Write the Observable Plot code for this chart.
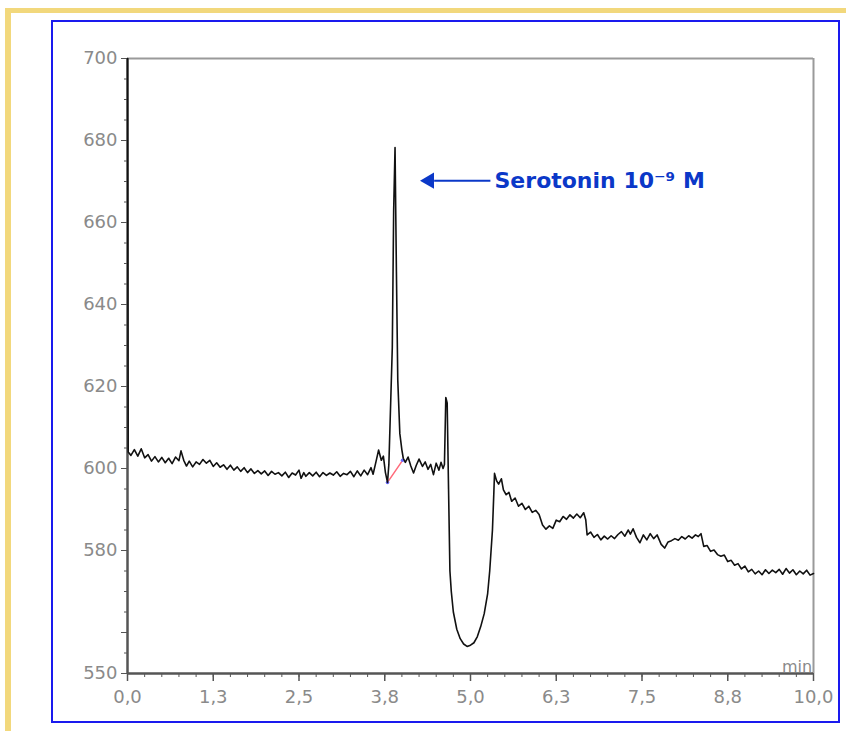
<!DOCTYPE html>
<html>
<head>
<meta charset="utf-8">
<script src="https://cdn.jsdelivr.net/npm/d3@7"></script>
<script src="https://cdn.jsdelivr.net/npm/@observablehq/plot@0.6"></script>
<style>
  html, body { margin: 0; padding: 0; background: #ffffff; }
  #wrap { position: relative; width: 846px; height: 731px; overflow: hidden; background: #fff; }
  .yl { position: absolute; background: #f2d87c; }
  #frame { position: absolute; left: 51px; top: 20px; width: 789px; height: 703px; border: 2px solid #1a1aee; box-sizing: border-box; }
  #chart { position: absolute; left: 0; top: 0; }
</style>
</head>
<body>
<div id="wrap">
  <div class="yl" style="left:5px;top:8px;width:841px;height:5px;"></div>
  <div class="yl" style="left:5px;top:8px;width:6px;height:723px;"></div>
  <div id="frame"></div>
  <div id="chart"></div>
</div>
<script>
// ---- Data (time in min, signal) ----
const baseline = [
  [0.00,700],[0.01,604],[0.05,603.2],[0.10,604.6],[0.15,603.0],[0.20,604.8],[0.25,602.6],[0.30,603.4],
  [0.35,601.8],[0.40,602.9],[0.45,601.6],[0.50,602.7],[0.55,601.4],[0.60,602.5],[0.65,601.2],[0.70,602.8],
  [0.75,601.9],[0.78,604.3],[0.82,602.0],[0.86,600.6],[0.90,601.8],[0.95,600.4],[1.00,601.6],[1.05,601.0],
  [1.10,602.2],[1.15,601.3],[1.20,602.0],[1.25,600.5],[1.30,601.4],[1.35,600.3],[1.40,600.9],[1.45,599.8],
  [1.50,600.8],[1.55,599.6],[1.60,600.4],[1.65,599.3],[1.70,600.2],[1.75,599.0],[1.80,599.9],[1.85,598.8],
  [1.90,599.5],[1.95,598.7],[2.00,599.4],[2.05,598.3],[2.10,599.3],[2.15,598.6],[2.20,599.0],[2.25,598.2],
  [2.30,599.1],[2.35,597.8],[2.40,598.9],[2.45,598.4],[2.50,599.6],[2.53,597.6],[2.57,599.0],[2.60,598.1],
  [2.65,599.0],[2.70,598.2],[2.75,599.1],[2.80,598.0],[2.85,599.0],[2.90,598.3],[2.95,598.9],[3.00,598.4],
  [3.05,599.2],[3.10,598.1],[3.15,598.8],[3.20,598.5],[3.25,599.3],[3.30,598.0],[3.35,599.4],[3.40,598.2],
  [3.45,599.6],[3.50,598.5],[3.55,600.2],[3.58,598.6],[3.62,601.5],[3.66,604.5],[3.70,602.0]
];
const peak = [
  [3.73,603.0],[3.76,599.0],[3.79,596.6],[3.81,601.0],[3.83,612.4],[3.86,629.5],[3.88,663],[3.90,678.3],
  [3.92,648],[3.94,621.5],[3.97,608.5],[4.00,604.5],[4.02,602.5]
];
const between = [
  [4.05,601.5],[4.09,602.8],[4.13,600.6],[4.17,598.9],[4.21,600.8],[4.25,602.3],[4.30,600.5],[4.34,601.6],
  [4.38,599.8],[4.42,601.0],[4.46,598.5],[4.50,601.3],[4.54,599.6],[4.57,601.5],[4.60,600.0],[4.62,601.0],
  [4.64,617.3],[4.66,616.0],[4.68,595.0],[4.70,575.0]
];
const dip = [
  [4.72,570],[4.75,565],[4.80,560.8],[4.85,558.5],[4.90,557.2],[4.95,556.6],[5.00,556.9],[5.05,557.5],
  [5.10,559.0],[5.15,561.5],[5.20,564.6],[5.25,569.5],[5.28,575.0],[5.32,585.0],[5.34,594.0],[5.35,598.8]
];
const tail = [
  [5.38,597.0],[5.41,596.2],[5.45,597.5],[5.48,594.8],[5.52,593.6],[5.56,594.2],[5.60,592.0],[5.65,592.8],
  [5.70,590.8],[5.75,591.5],[5.80,590.0],[5.85,590.8],[5.90,589.3],[5.95,589.8],[6.00,588.8],[6.05,586.2],
  [6.10,585.2],[6.15,586.0],[6.20,585.4],[6.25,587.4],[6.30,587.0],[6.35,588.3],[6.40,587.6],[6.45,588.7],
  [6.50,587.9],[6.55,588.9],[6.60,588.0],[6.65,589.2],[6.68,587.5],[6.70,583.8],[6.75,584.5],[6.80,583.2],
  [6.85,583.9],[6.90,582.6],[6.95,583.5],[7.00,582.8],[7.05,583.6],[7.10,582.9],[7.15,583.9],[7.20,584.6],
  [7.25,583.5],[7.30,585.0],[7.33,584.0],[7.37,585.3],[7.42,583.2],[7.47,581.9],[7.52,583.8],[7.57,582.6],
  [7.62,584.1],[7.67,582.9],[7.72,583.8],[7.78,581.5],[7.83,580.6],[7.88,582.1],[7.93,582.4],[7.98,582.9],
  [8.03,582.5],[8.08,583.4],[8.13,582.8],[8.18,583.6],[8.23,583.0],[8.28,583.8],[8.32,583.4],[8.36,584.1],
  [8.40,581.0],[8.45,581.2],[8.50,579.8],[8.55,580.1],[8.60,579.0],[8.65,578.6],[8.70,578.9],[8.75,577.3],
  [8.80,577.6],[8.85,576.4],[8.90,576.8],[8.95,575.5],[9.00,576.2],[9.05,574.8],[9.10,575.4],[9.15,574.3],
  [9.20,575.0],[9.25,574.1],[9.30,575.3],[9.35,574.4],[9.40,575.2],[9.45,574.6],[9.50,575.4],[9.55,574.2],
  [9.60,575.6],[9.65,574.5],[9.70,575.3],[9.75,574.1],[9.80,575.0],[9.85,574.3],[9.90,575.2],[9.95,574.0],
  [10.00,574.4]
];
const peakBaseline = [[3.79,596.6],[4.01,602.0]];

const xTicks = [0, 1.25, 2.5, 3.75, 5, 6.25, 7.5, 8.75, 10];
const xTickLabels = ["0,0","1,3","2,5","3,8","5,0","6,3","7,5","8,8","10,0"];
const yTicksLabeled = [550, 580, 600, 620, 640, 660, 680, 700];
const yTicksUnlabeled = [560];
const xMinor = d3.range(0, 10.001, 0.25);
const yMinor = d3.range(550, 701, 5);

const annotation = { label: "Serotonin 10\u207B\u2079 M", x: 5.35, y: 670.2, arrowFrom: 5.29, arrowTo: 4.47, tip: 4.40 };
const xUnit = "min";

// ---- Build ----
const trace = [...baseline, ...peak, ...between, ...dip, ...tail];
const axisGray = "#555";
const textGray = "#8a8a8a";
const blue = "#0b38c8";

const chart = Plot.plot({
  width: 846,
  height: 731,
  marginLeft: 127,
  marginRight: 33,
  marginTop: 58,
  marginBottom: 58,
  style: { fontFamily: "DejaVu Sans, Verdana, sans-serif", fontSize: "18px", background: "transparent", overflow: "visible" },
  x: { domain: [0, 10] },
  y: { domain: [550, 700] },
  marks: [
    Plot.ruleY([700], { stroke: "#9a9a9a", strokeWidth: 2 }),
    Plot.ruleX([10], { stroke: "#9a9a9a", strokeWidth: 2 }),
    Plot.axisX({ ticks: xMinor, tickSize: 4, fill: "none", stroke: axisGray, label: null }),
    Plot.axisX({ ticks: xTicks, tickSize: 8, tickPadding: 9, tickFormat: (d, i) => xTickLabels[i], stroke: axisGray, fill: textGray, strokeWidth: 1.5, label: null }),
    Plot.axisY({ ticks: yMinor, tickSize: 3, fill: "none", stroke: axisGray, label: null }),
    Plot.axisY({ ticks: yTicksUnlabeled, tickSize: 6, fill: "none", stroke: axisGray, label: null }),
    Plot.axisY({ ticks: yTicksLabeled, tickSize: 6, tickPadding: 4, tickFormat: d => String(d), stroke: axisGray, fill: textGray, label: null }),
    Plot.ruleX([0], { stroke: axisGray, strokeWidth: 2.5 }),
    Plot.ruleY([550], { stroke: axisGray, strokeWidth: 2.5 }),
    Plot.line(peakBaseline, { x: d => d[0], y: d => d[1], stroke: "#ff6a7a", strokeWidth: 1.5 }),
    Plot.dot(peakBaseline, { x: d => d[0], y: d => d[1], r: 1.8, fill: "#6a6aff" }),
    Plot.line(trace, { x: d => d[0], y: d => d[1], stroke: "#111", strokeWidth: 1.6, strokeLinejoin: "round" }),
    Plot.link([annotation], { x1: d => d.arrowFrom, x2: d => d.arrowTo, y1: d => d.y, y2: d => d.y, stroke: blue, strokeWidth: 2 }),
    Plot.dot([annotation], { x: d => d.tip, y: d => d.y, symbol: "triangle", rotate: -90, r: 6, fill: blue, stroke: "none" }),
    Plot.text([annotation], { x: d => d.x, y: d => d.y, text: d => d.label, textAnchor: "start", fill: blue, fontWeight: "bold", fontSize: 22 }),
    Plot.text([xUnit], { x: 9.98, y: 550, text: d => d, textAnchor: "end", lineAnchor: "bottom", dy: -2, fill: textGray, fontSize: 16 })
  ]
});
document.getElementById("chart").appendChild(chart);
</script>
</body>
</html>
